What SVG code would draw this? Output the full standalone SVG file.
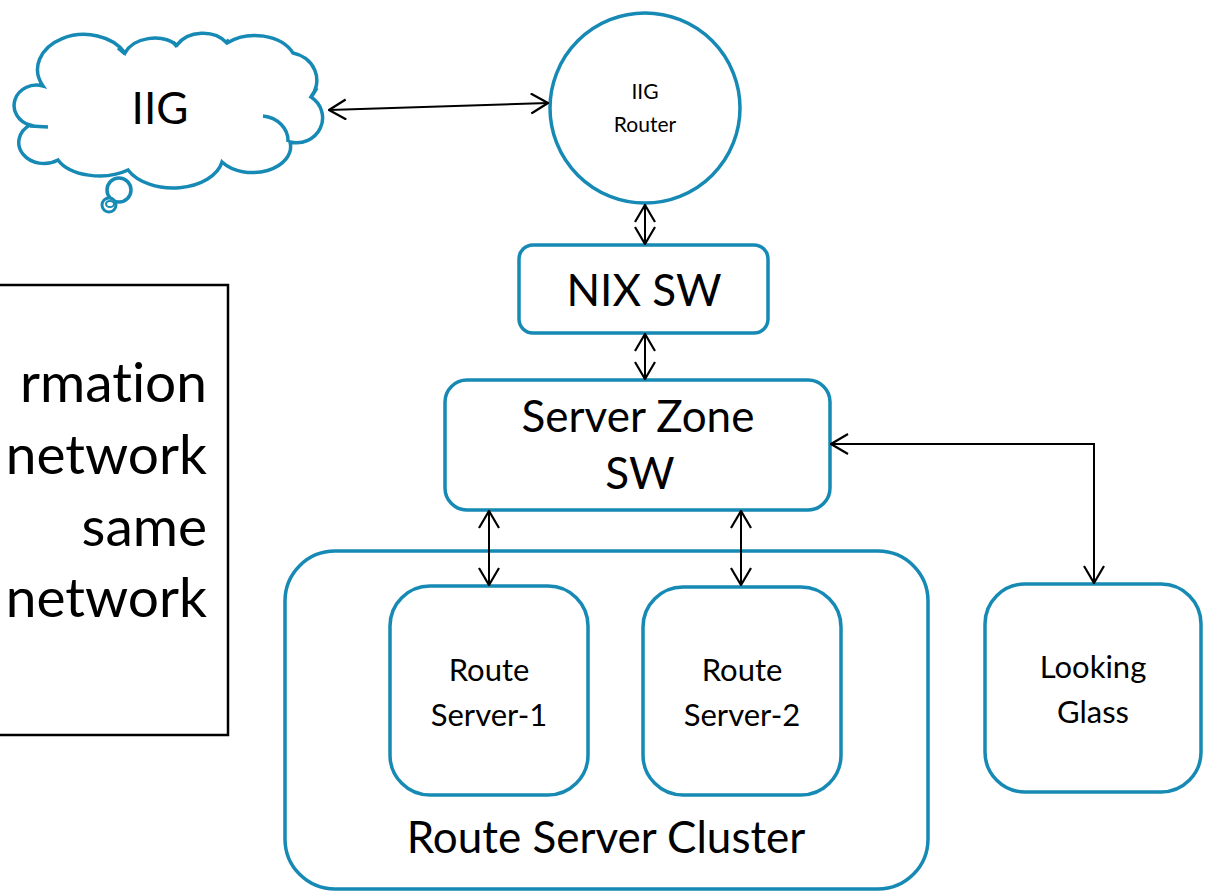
<svg xmlns="http://www.w3.org/2000/svg" width="1216" height="892" viewBox="0 0 1216 892">
<defs>
<style>
.n{fill:#fff;stroke:#168ab4;stroke-width:3.5}
.t{font-family:Lato,"Liberation Sans",sans-serif;fill:#000;text-anchor:middle;font-variant-ligatures:none}
.c{fill:none;stroke:#000;stroke-width:2}
</style>
<marker id="a" viewBox="0 0 19 22" refX="18" refY="11" markerWidth="19" markerHeight="22" markerUnits="userSpaceOnUse" orient="auto-start-reverse">
<path d="M1,1 L18,11 L1,21" fill="none" stroke="#000" stroke-width="2.2"/>
</marker>
</defs>
<rect width="1216" height="892" fill="#fff"/>
<g id="note">
<rect x="-4" y="285" width="232" height="450" fill="#fff" stroke="#000" stroke-width="2.5"/>
<text class="t" style="text-anchor:end" x="207" y="402" font-size="55">rmation</text>
<text class="t" style="text-anchor:end" x="207" y="474" font-size="55">network</text>
<text class="t" style="text-anchor:end" x="207" y="546" font-size="55">same</text>
<text class="t" style="text-anchor:end" x="207" y="617" font-size="55">network</text>
</g>
<g id="iig-cloud">
<path class="n" d="M43,86 A45,34 0 0 1 125,53 A32,24 0 0 1 177,45 A30,24 0 0 1 227,43 A42,30 0 0 1 293,53 A30,28 0 0 1 311,97 A26,25 0 0 1 290,142 A38,26 0 0 1 222,162 A50,32 0 0 1 128,170 A45,26 0 0 1 58,160 A24,20 0 0 1 30,125 A22,20 0 0 1 43,86 Z"/>
<path d="M263,116 A28,25 0 0 1 288,142 M311,97 L317,88 M48,127 L30,126 M118,48 L125,54 M173,42 L177,47 M225,43 L229,40" fill="none" stroke="#168ab4" stroke-width="3.5"/>
<circle cx="119" cy="190" r="12" fill="#fff" stroke="#168ab4" stroke-width="3.5"/>
<circle cx="109" cy="205" r="7" fill="#fff" stroke="#168ab4" stroke-width="3"/>
<ellipse cx="110" cy="204" rx="4" ry="3" fill="none" stroke="#168ab4" stroke-width="2"/>
<text class="t" x="160" y="124" font-size="44">IIG</text>
</g>
<g id="iig-router">
<circle class="n" cx="645" cy="108" r="95"/>
<text class="t" x="645" y="99" font-size="21">IIG</text>
<text class="t" x="645" y="132" font-size="21">Router</text>
</g>
<g id="nix-sw">
<rect class="n" x="519" y="245" width="249" height="88" rx="14"/>
<text class="t" x="644" y="306" font-size="44">NIX SW</text>
</g>
<g id="server-zone-sw">
<rect class="n" x="445" y="380" width="385" height="130" rx="22"/>
<text class="t" x="638" y="432" font-size="44">Server Zone</text>
<text class="t" x="640" y="489" font-size="44">SW</text>
</g>
<g id="route-server-cluster">
<rect class="n" x="285" y="551" width="643" height="338" rx="50"/>
<text class="t" x="606" y="853" font-size="44">Route Server Cluster</text>
</g>
<g id="route-server-1">
<rect class="n" x="390" y="586" width="198" height="209" rx="40"/>
<text class="t" x="489" y="681" font-size="31">Route</text>
<text class="t" x="489" y="726" font-size="31">Server-1</text>
</g>
<g id="route-server-2">
<rect class="n" x="643" y="587" width="198" height="208" rx="40"/>
<text class="t" x="742" y="681" font-size="31">Route</text>
<text class="t" x="742" y="726" font-size="31">Server-2</text>
</g>
<g id="looking-glass">
<rect class="n" x="985" y="584" width="216" height="208" rx="40"/>
<text class="t" x="1093" y="678" font-size="31">Looking</text>
<text class="t" x="1093" y="723" font-size="31">Glass</text>
</g>
<g id="connectors">
<line class="c" x1="329" y1="110" x2="548" y2="103" marker-start="url(#a)" marker-end="url(#a)"/>
<line class="c" x1="645" y1="205" x2="645" y2="244" marker-start="url(#a)" marker-end="url(#a)"/>
<line class="c" x1="645" y1="334" x2="645" y2="379" marker-start="url(#a)" marker-end="url(#a)"/>
<line class="c" x1="489" y1="511" x2="489" y2="585" marker-start="url(#a)" marker-end="url(#a)"/>
<line class="c" x1="741" y1="511" x2="741" y2="585" marker-start="url(#a)" marker-end="url(#a)"/>
<polyline class="c" points="831,444 1094,444 1094,583" marker-start="url(#a)" marker-end="url(#a)"/>
</g>
</svg>
